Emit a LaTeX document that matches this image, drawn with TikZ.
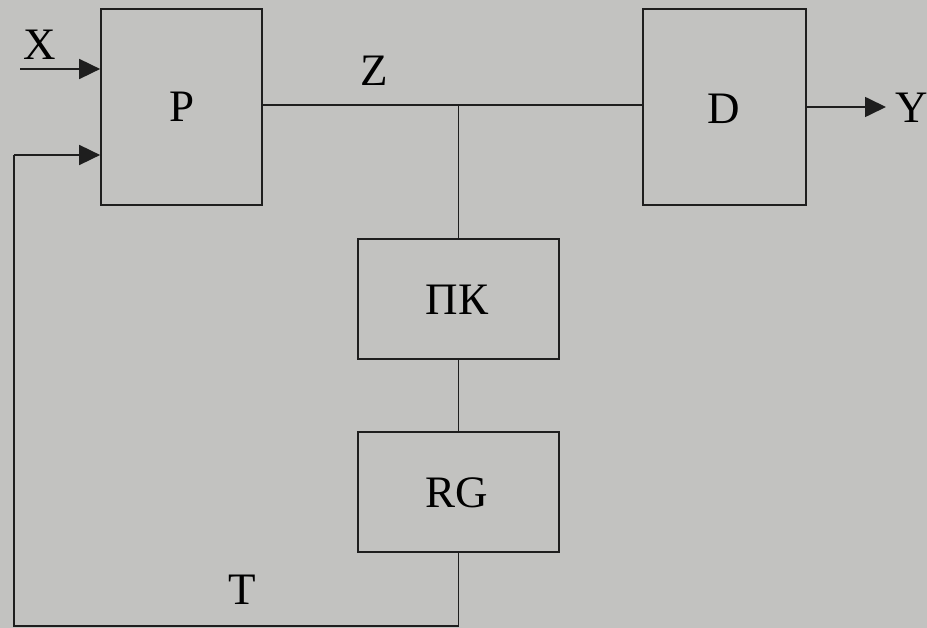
\documentclass[tikz,border=0pt]{standalone}
\usepackage{fontspec}
\setmainfont{Liberation Serif}
\usetikzlibrary{arrows.meta}
\definecolor{paper}{RGB}{194,194,192}
\definecolor{ink}{RGB}{30,30,30}
\begin{document}
\begin{tikzpicture}[x=1pt,y=-1pt,
  blk/.style={draw=ink,line width=1.7pt,inner sep=0pt},
  wire/.style={draw=ink,line width=1.7pt},
  arr/.style={wire,-{Triangle[length=21pt,width=20pt]}},
  lbl/.style={inner sep=0pt,text=black,font=\fontsize{45}{45}\selectfont}]
\fill[paper] (0,0) rectangle (927,628);
\useasboundingbox (0,0) rectangle (927,628);
\node[blk,minimum width=161pt,minimum height=196pt] (P) at (181.5,107) {};
\node[lbl] at (182,107) {P};
\node[blk,minimum width=163pt,minimum height=196pt] (D) at (724.5,107) {};
\node[lbl] at (724,109) {D};
\node[blk,minimum width=201pt,minimum height=120pt] (PK) at (458.5,299) {};
\node[lbl] at (457,300) {ПК};
\node[blk,minimum width=201pt,minimum height=120pt] (RG) at (458.5,492) {};
\node[lbl] at (457,493) {RG};
\node[lbl] (X) at (40,45) {X};
\node[lbl] (Z) at (374,71) {Z};
\node[lbl] (Y) at (912,108) {Y};
\node[lbl] (T) at (242,590) {T};
\coordinate (xin) at (20,69);
\coordinate (fb) at (14,155);
\coordinate (J) at (458.5,105);
\coordinate (yout) at (886,107);
\coordinate (bl) at (14,626);
\draw[arr] (xin) -- (P.west |- xin);
\draw[wire] (P.east |- J) -- (D.west |- J);
\draw[wire] (J) -- (PK.north);
\draw[wire] (PK.south) -- (RG.north);
\draw[wire] (RG.south) -- (RG.south |- bl) -- (bl) -- (fb);
\draw[arr] (fb) -- (P.west |- fb);
\draw[arr] (D.east |- yout) -- (yout);
\end{tikzpicture}
\end{document}
